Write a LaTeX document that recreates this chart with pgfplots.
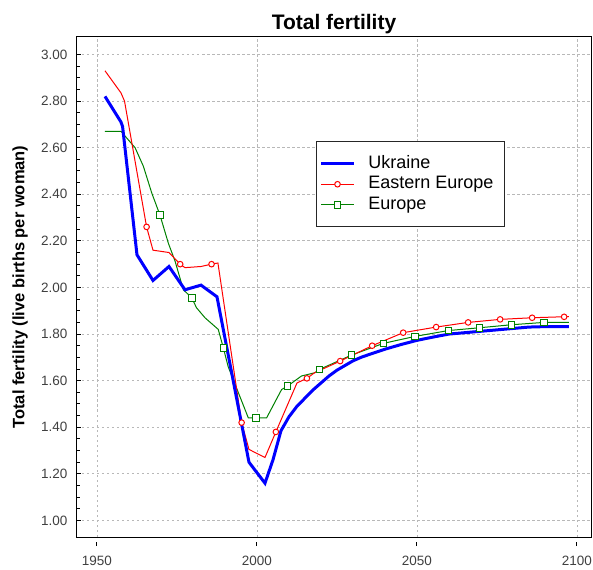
\documentclass[border=0pt]{standalone}
\usepackage{pgfplots}
\pgfplotsset{compat=1.18}
\usepackage{fontspec}
\setmainfont{Liberation Sans}
\definecolor{ukr}{RGB}{0,0,255}
\definecolor{eeu}{RGB}{255,0,0}
\definecolor{eur}{RGB}{0,128,0}
\begin{document}
\begin{tikzpicture}
\begin{axis}[
  at={(0,0)}, anchor=south west,
  scale only axis, width=514bp, height=500bp,
  xmin=1943.75, xmax=2104.4,
  ymin=0.929, ymax=3.075,
  axis line style={black, line width=1bp},
  tick pos=left,
  xtick={1950,2000,2050,2100},
  ytick={1.0,1.2,1.4,1.6,1.8,2.0,2.2,2.4,2.6,2.8,3.0},
  minor y tick num=3,
  xtick align=outside, ytick align=inside,
  major tick length=4.5bp, minor tick length=3bp,
  x tick style={black, line width=1bp, yshift=-4.5bp},
  tick style={black, line width=1bp},
  xmajorgrids, ymajorgrids,
  major grid style={black!28, line width=0.8bp, dash pattern=on 2.5bp off 2.5bp},
  /pgf/number format/assume math mode=true,
  yticklabel style={/pgf/number format/.cd, fixed, fixed zerofill, precision=2, /tikz/.cd,
    font=\fontsize{13.5bp}{16bp}\selectfont, color=black!75, xshift=-6bp},
  xticklabel style={/pgf/number format/1000 sep={},
    font=\fontsize{13.5bp}{16bp}\selectfont, color=black!75, yshift=-11.5bp},
  title={Total fertility},
  every axis title/.style={at={(axis description cs:0.5,1)}, anchor=base, yshift=7.5bp,
    font=\bfseries\fontsize{21bp}{24bp}\selectfont},
  ylabel={Total fertility (live births per woman)},
  every axis y label/.style={at={(axis description cs:-0.1109,0.5)}, rotate=90, anchor=center,
    font=\bfseries\fontsize{16.5bp}{19bp}\selectfont},
  legend style={at={(axis description cs:0.465,0.792)}, anchor=north west,
    draw=black!85, line width=1bp, fill=white,
    font=\fontsize{18bp}{20bp}\selectfont, inner xsep=3bp, inner ysep=12bp, row sep=0bp,
    /tikz/column sep=11bp,
    nodes={text height=13bp, text depth=4bp, inner sep=1.75bp}},
  legend cell align=left,
  legend image code/.code={\draw[mark repeat=2,mark phase=2,#1] plot coordinates {(0bp,0bp)(16.5bp,0bp)(33bp,0bp)};},
]
% Europe line
\addplot[eur, line width=1bp, forget plot] coordinates {
(1952.5,2.67)(1957.5,2.67)(1961.9,2.60)(1964.5,2.52)(1967.1,2.406)(1969.7,2.31)
(1972.3,2.19)(1974.4,2.113)(1977,1.99)(1979.6,1.956)(1981.1,1.913)(1983.75,1.87)
(1987.9,1.82)(1989.5,1.74)(1991,1.66)(1994.2,1.548)(1997.3,1.44)(1999.7,1.44)(2003,1.44)
(2007.7,1.562)(2009.5,1.576)(2013.9,1.62)(2018.1,1.634)(2019.5,1.648)(2029.6,1.71)
(2039.5,1.76)(2049.4,1.79)(2059.8,1.815)(2069.5,1.827)(2079.6,1.84)(2089.7,1.85)(2097.5,1.85)};
% Europe markers
\addplot[eur, line width=1bp, only marks, mark=square*, mark size=3.3bp, mark options={fill=white}, forget plot] coordinates {
(1969.7,2.31)(1979.6,1.956)(1989.5,1.74)(1999.7,1.44)(2009.5,1.576)(2019.5,1.648)(2029.6,1.71)
(2039.5,1.76)(2049.4,1.79)(2059.8,1.815)(2069.5,1.827)(2079.6,1.84)(2089.7,1.85)};
% Eastern Europe line
\addplot[eeu, line width=1bp, forget plot] coordinates {
(1952.5,2.93)(1957.5,2.835)(1958.6,2.80)(1965.5,2.26)(1967.5,2.16)(1972.5,2.15)(1976,2.10)
(1977.5,2.085)(1982.5,2.09)(1985.8,2.10)(1987.8,2.105)(1995.2,1.42)(1997.5,1.305)(2002.5,1.27)
(2005.9,1.38)(2012.5,1.59)(2015.6,1.61)(2018,1.634)(2026,1.684)(2036,1.75)(2045.7,1.806)
(2056,1.83)(2066,1.85)(2076,1.863)(2086,1.87)(2097.5,1.875)};
% Eastern Europe markers
\addplot[eeu, line width=1bp, only marks, mark=*, mark size=2.8bp, mark options={fill=white}, forget plot] coordinates {
(1965.5,2.26)(1976,2.10)(1985.8,2.10)(1995.2,1.42)(2005.9,1.38)(2015.6,1.61)(2026,1.684)
(2036,1.75)(2045.7,1.806)(2056,1.83)(2066,1.85)(2076,1.863)(2086,1.87)(2096,1.874)};
% Ukraine
\addplot[ukr, line width=3bp, forget plot] coordinates {
(1952.5,2.82)(1957.5,2.71)(1958.0,2.69)(1962.5,2.14)(1967.5,2.03)(1972.5,2.09)(1977.5,1.99)
(1982.5,2.01)(1987.5,1.96)(1997.5,1.25)(2002.5,1.16)(2005,1.26)(2007.5,1.385)(2010,1.445)
(2012.5,1.49)(2015,1.525)(2017.5,1.56)(2020,1.59)(2022.5,1.62)(2025,1.645)(2027.5,1.665)
(2030,1.685)(2032.5,1.70)(2035,1.712)(2040,1.735)(2045,1.755)(2050,1.773)(2055,1.787)
(2060,1.80)(2065,1.806)(2070,1.812)(2075,1.818)(2080,1.824)(2085,1.83)(2090,1.832)(2097.5,1.832)};
\addlegendimage{ukr, line width=3bp}
\addlegendentry{Ukraine}
\addlegendimage{eeu, line width=1bp, mark=*, mark size=2.8bp, mark options={fill=white}}
\addlegendentry{Eastern Europe\hspace*{6bp}}
\addlegendimage{eur, line width=1bp, mark=square*, mark size=3.3bp, mark options={fill=white}}
\addlegendentry{Europe}
\end{axis}
\draw[black, line width=1bp] (0bp,500bp) -- (514bp,500bp) -- (514bp,0bp);
\pgfresetboundingbox
\path[use as bounding box] (-77bp,-33bp) rectangle (516bp,537bp);
\end{tikzpicture}
\end{document}
